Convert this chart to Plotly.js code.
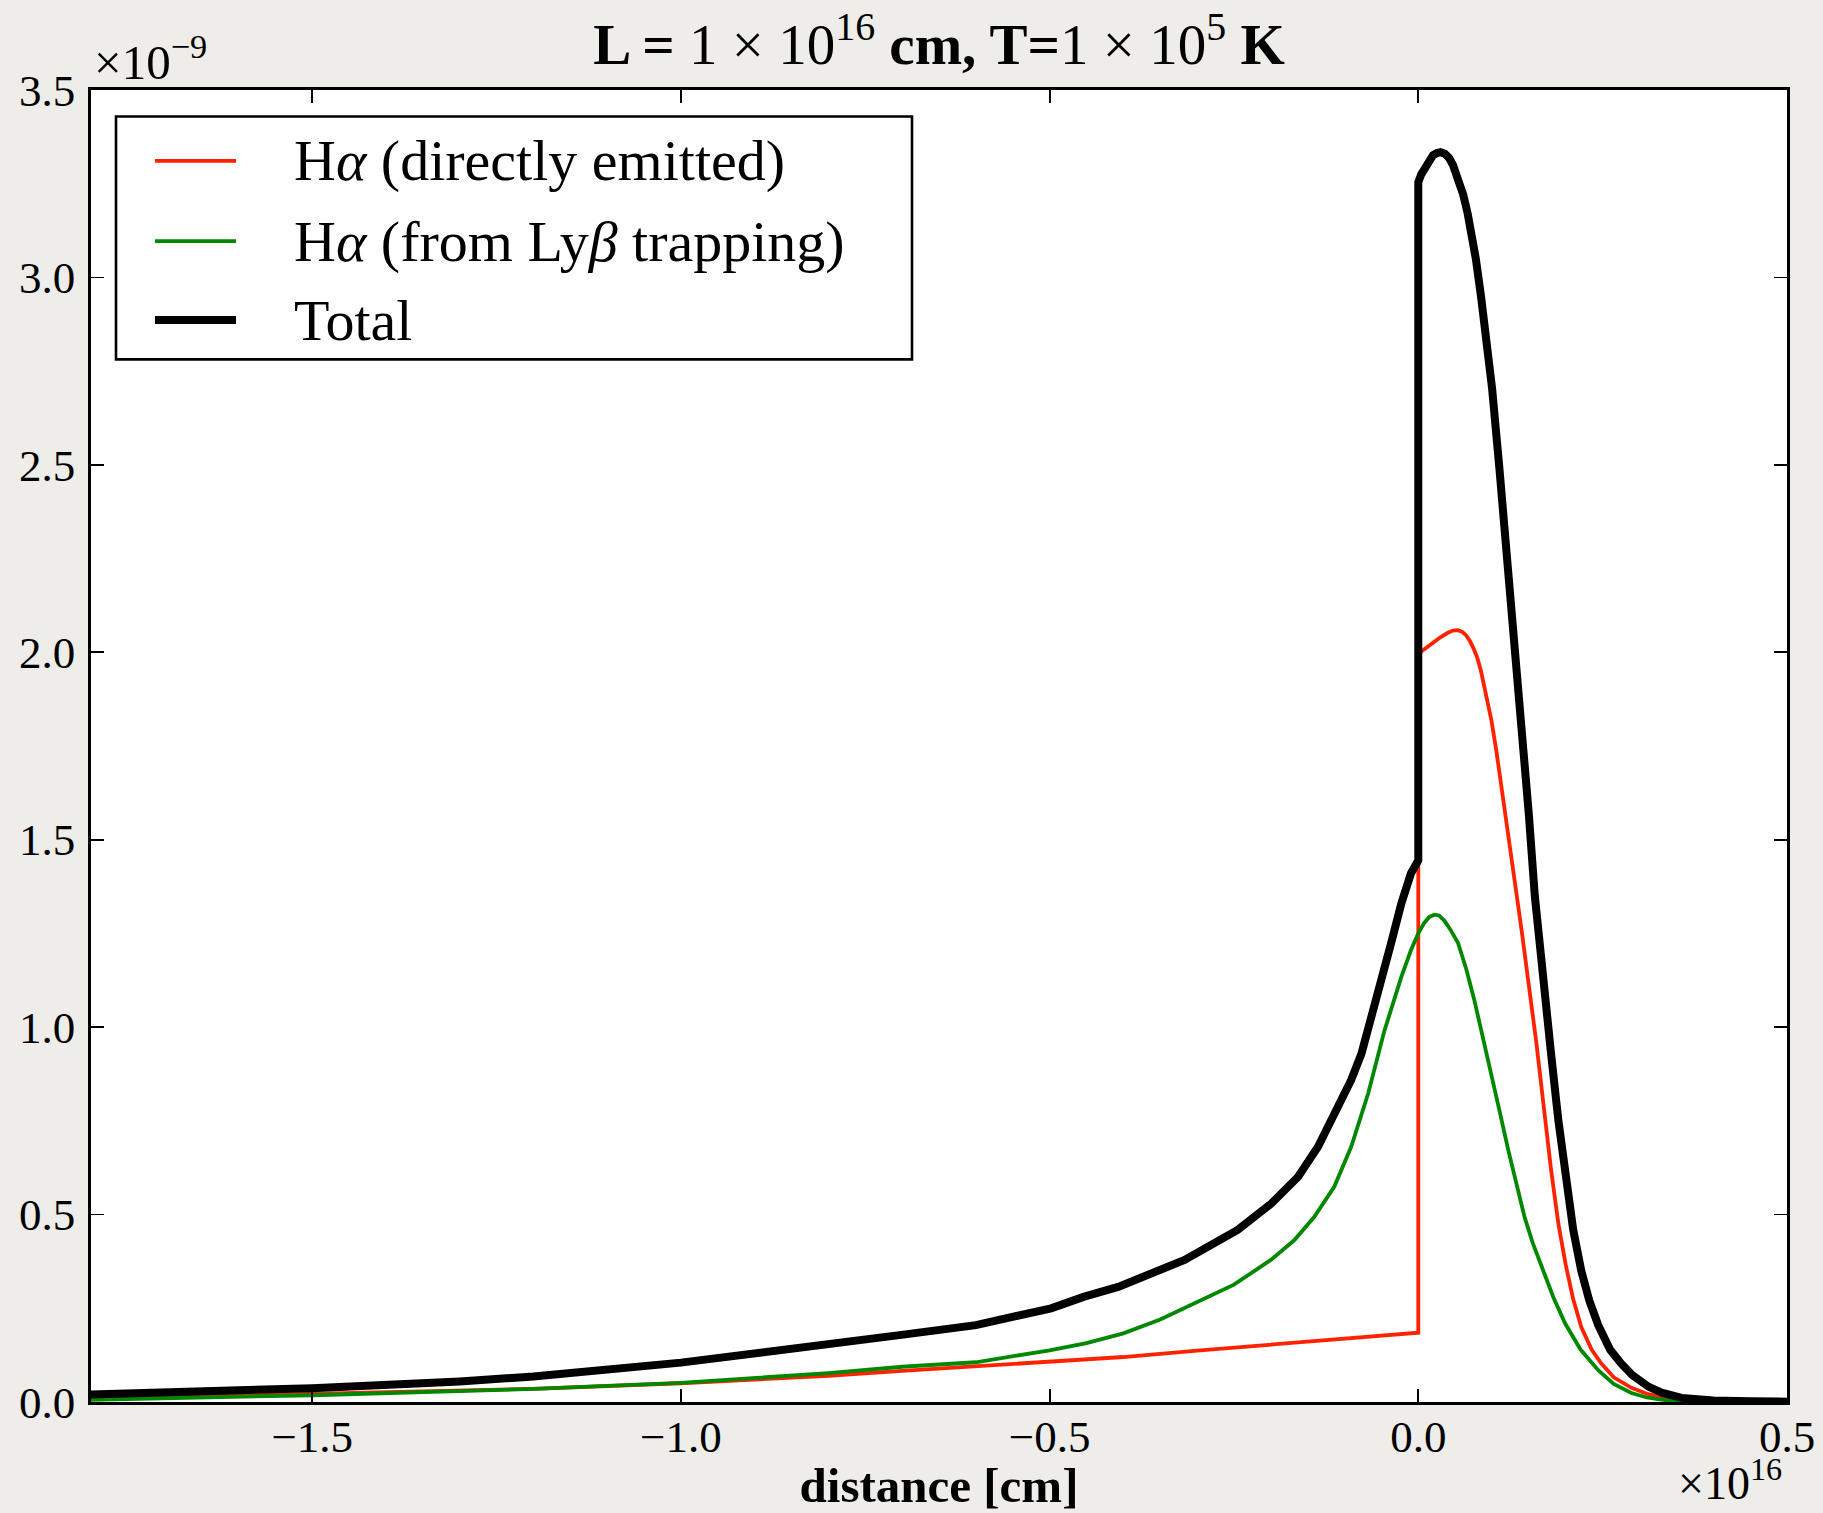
<!DOCTYPE html>
<html>
<head>
<meta charset="utf-8">
<script src="https://cdn.plot.ly/plotly-3.0.1.min.js"></script>
<style>html,body{margin:0;padding:0;background:#eeede9;}</style>
</head>
<body>
<div id="chart" style="width:1823px;height:1513px;"></div>
<script>
// distance in units of 1e16 cm, emission in units of 1e-9
const red_x = [-1.8, -1.5, -1.2, -1.0, -0.8, -0.7, -0.6, -0.5, -0.4, -0.3, -0.2, -0.1, -0.05, 0.0,
  0.0, 0.01, 0.02, 0.03, 0.04, 0.047, 0.054, 0.06, 0.065, 0.07, 0.075, 0.08, 0.085, 0.092, 0.099, 0.106, 0.113, 0.12, 0.126, 0.133, 0.14, 0.15, 0.16, 0.17, 0.18, 0.19, 0.2, 0.21, 0.221, 0.235, 0.248, 0.265, 0.289, 0.31, 0.334, 0.36, 0.4, 0.45, 0.5];
const red_y = [0.009, 0.021, 0.035, 0.05, 0.07, 0.083, 0.096, 0.108, 0.12, 0.137, 0.153, 0.168, 0.176, 0.185,
  1.996, 2.011, 2.026, 2.04, 2.052, 2.058, 2.059, 2.054, 2.045, 2.03, 2.01, 1.985, 1.95, 1.89, 1.82, 1.735, 1.64, 1.545, 1.463, 1.36, 1.26, 1.11, 0.96, 0.79, 0.62, 0.475, 0.365, 0.275, 0.2, 0.14, 0.103, 0.066, 0.038, 0.022, 0.012, 0.006, 0.002, 0.0007, 0.0];

const green_x = [-1.8, -1.5, -1.2, -1.0, -0.8, -0.7, -0.6, -0.5, -0.45, -0.4, -0.35, -0.3, -0.25, -0.2, -0.168, -0.141, -0.114, -0.091, -0.068, -0.046, -0.023, -0.01, 0.0, 0.008, 0.015, 0.022, 0.028, 0.035, 0.043, 0.054, 0.065, 0.076, 0.087, 0.099, 0.11, 0.122, 0.133, 0.144, 0.155, 0.167, 0.183, 0.199, 0.22, 0.244, 0.265, 0.289, 0.31, 0.334, 0.37, 0.4, 0.45, 0.5];
const green_y = [0.006, 0.018, 0.035, 0.051, 0.077, 0.094, 0.106, 0.138, 0.157, 0.183, 0.22, 0.267, 0.313, 0.379, 0.432, 0.494, 0.574, 0.681, 0.823, 0.99, 1.134, 1.205, 1.25, 1.278, 1.294, 1.3, 1.298, 1.285, 1.262, 1.224, 1.155, 1.072, 0.98, 0.877, 0.778, 0.672, 0.58, 0.494, 0.425, 0.361, 0.28, 0.21, 0.14, 0.085, 0.048, 0.024, 0.012, 0.005, 0.002, 0.001, 0.0, 0.0];

const total_x = [-1.8, -1.5, -1.3, -1.2, -1.0, -0.837, -0.701, -0.6, -0.498, -0.453, -0.407, -0.317, -0.245, -0.199, -0.163, -0.136, -0.118, -0.104, -0.091, -0.077, -0.064, -0.050, -0.037, -0.023, -0.01, 0.0,
  0.0, 0.004, 0.009, 0.015, 0.02, 0.025, 0.03, 0.036, 0.042, 0.047, 0.054, 0.061, 0.067, 0.072, 0.078, 0.085, 0.092, 0.1, 0.11, 0.12, 0.13, 0.14, 0.15, 0.158, 0.165, 0.17, 0.18, 0.19, 0.199, 0.21, 0.221, 0.232, 0.244, 0.26, 0.275, 0.29, 0.312, 0.33, 0.357, 0.38, 0.4, 0.45, 0.5];
const total_y = [0.02, 0.037, 0.055, 0.068, 0.105, 0.143, 0.179, 0.205, 0.25, 0.281, 0.307, 0.379, 0.459, 0.53, 0.601, 0.681, 0.752, 0.805, 0.859, 0.93, 1.019, 1.117, 1.223, 1.33, 1.41, 1.445,
  3.254, 3.275, 3.294, 3.315, 3.326, 3.332, 3.334, 3.33, 3.318, 3.3, 3.265, 3.22, 3.17, 3.125, 3.05, 2.95, 2.84, 2.705, 2.49, 2.27, 2.04, 1.8, 1.565, 1.35, 1.2, 1.11, 0.93, 0.75, 0.6, 0.46, 0.35, 0.27, 0.205, 0.14, 0.103, 0.072, 0.041, 0.025, 0.011, 0.006, 0.004, 0.002, 0.001];

const x_ticks = [-1.5, -1.0, -0.5, 0.0, 0.5];
const y_ticks = [0.0, 0.5, 1.0, 1.5, 2.0, 2.5, 3.0, 3.5];
const series_names = ['H<i>α</i> (directly emitted)', 'H<i>α</i> (from Ly<i>β</i> trapping)', 'Total'];
const series_colors = ['#ff2200', '#008800', '#000000'];
const series_widths = [3.8, 3.8, 8];

const FONT = 'Liberation Serif, Times New Roman, serif';

const traces = [
  {x: red_x, y: red_y, mode: 'lines', name: series_names[0], line: {color: series_colors[0], width: series_widths[0]}, showlegend: false},
  {x: green_x, y: green_y, mode: 'lines', name: series_names[1], line: {color: series_colors[1], width: series_widths[1]}, showlegend: false},
  {x: total_x, y: total_y, mode: 'lines', name: series_names[2], line: {color: series_colors[2], width: series_widths[2]}, showlegend: false}
];

// manual legend in paper coordinates (box, sample lines, labels)
const W = 1696, H = 1312.5, L0 = 91, B0 = 1402;
const px = X => (X - L0) / W;
const py = Y => (B0 - Y) / H;
const legRows = [160.4, 240.7, 319.7];
const shapes = [
  {type: 'rect', xref: 'paper', yref: 'paper', x0: px(116), x1: px(912), y0: py(359), y1: py(116),
   line: {color: '#000', width: 2.6}, fillcolor: '#ffffff', layer: 'above'}
];
const annotations = [];
legRows.forEach((Y, i) => {
  shapes.push({type: 'line', xref: 'paper', yref: 'paper', x0: px(155), x1: px(236), y0: py(Y), y1: py(Y),
    line: {color: series_colors[i], width: series_widths[i]}, layer: 'above'});
  annotations.push({xref: 'paper', yref: 'paper', x: px(292), y: py(Y), xanchor: 'left', yanchor: 'middle',
    text: series_names[i], showarrow: false, font: {family: FONT, size: 58, color: '#000'}});
});
annotations.push({xref: 'paper', yref: 'paper', x: px(92), y: py(58), xanchor: 'left', yanchor: 'middle',
  text: '×10<sup>−9</sup>', showarrow: false, font: {family: FONT, size: 49, color: '#000'}});
annotations.push({xref: 'paper', yref: 'paper', x: px(1784), y: py(1480), xanchor: 'right', yanchor: 'middle',
  text: '×10<sup>16</sup>', showarrow: false, font: {family: FONT, size: 46, color: '#000'}});

const axisCommon = {
  showline: true, linecolor: '#000', linewidth: 2.8, mirror: 'ticks',
  ticks: 'inside', ticklen: 13, tickwidth: 1.8, tickcolor: '#000',
  showgrid: false, zeroline: false, tickformat: '.1f',
  tickfont: {family: FONT, size: 45, color: '#000'}
};

const layout = {
  width: 1823, height: 1513,
  margin: {l: 91, r: 36, t: 89.5, b: 111, pad: 0},
  paper_bgcolor: '#eeede9', plot_bgcolor: '#ffffff',
  title: {text: '<b>L =</b> 1 × 10<sup>16</sup> <b>cm, T=</b>1 × 10<sup>5</sup> <b>K</b>',
    font: {family: FONT, size: 57, color: '#000'}, xref: 'paper', x: 0.5, xanchor: 'center',
    yref: 'container', y: 1 - 44 / 1513, yanchor: 'middle'},
  xaxis: Object.assign({}, axisCommon, {range: [-1.8, 0.5], tickvals: x_ticks, ticklabelstandoff: -7,
    title: {text: '<b>distance [cm]</b>', font: {family: FONT, size: 49, color: '#000'}, standoff: 12}}),
  yaxis: Object.assign({}, axisCommon, {range: [0, 3.5], tickvals: y_ticks, ticklabelstandoff: 4}),
  shapes: shapes,
  annotations: annotations,
  showlegend: false
};

Plotly.newPlot('chart', traces, layout, {displayModeBar: false, staticPlot: true});
</script>
</body>
</html>
